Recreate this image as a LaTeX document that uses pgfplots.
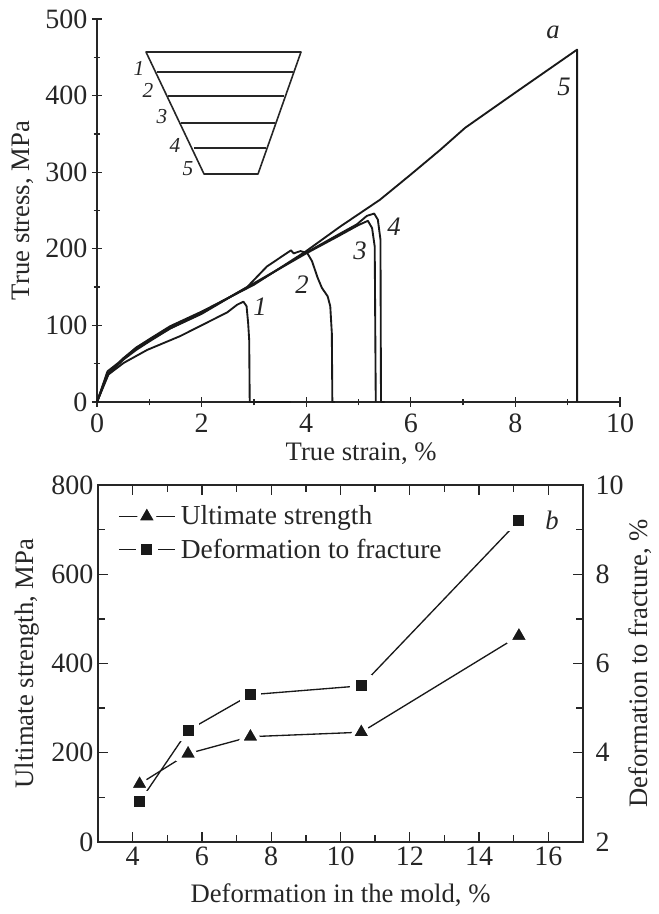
\documentclass[border=0pt]{standalone}
\usepackage{fontspec}
\setmainfont{Liberation Serif}
\usepackage{pgfplots}
\pgfplotsset{compat=1.18}
\pgfplotsset{
 common/.style={
  scale only axis,
  /pgf/number format/assume math mode=true,
  tick label style={font=\fontsize{21}{23}\selectfont, text=black!85},
  label style={font=\fontsize{20}{23}\selectfont, text=black!85},
  axis line style={line width=1.5pt, black!85},
  every tick/.style={line width=1pt, black!85},
  major tick length=7.5pt, minor tick length=5pt,
  tick align=inside,
  clip=false,
 },
 crv/.style={line width=1.4pt, black!90, line join=round, no markers},
 trimark/.style={mark=triangle*, mark size=9pt, mark options={solid, draw=white, fill=black!90, line width=3pt, line join=round}},
 sqmark/.style={mark=square*, mark size=6.1pt, mark options={solid, draw=white, fill=black!90, line width=4pt, line join=miter}},
}
\begin{document}
\begin{tikzpicture}[x=0.75pt,y=0.75pt]
\path (0,0) rectangle (659,914);
\begin{axis}[common, anchor=south west, at={(97*0.75pt,512*0.75pt)},
 width=392.25pt, height=287.25pt,
 xmin=0, xmax=10, ymin=0, ymax=500,
 axis x line=bottom, axis y line=left, axis line style={-},
 xtick={0,2,...,10}, minor xtick={1,3,5,7,9},
 ytick={0,100,...,500}, minor ytick={50,150,...,450},
 xticklabel style={yshift=-1.5pt},
 xlabel={True strain, \%}, ylabel={True stress, MPa},
 xlabel style={yshift=-1pt, xshift=2pt}, ylabel style={yshift=2pt},
]
\addplot[crv] coordinates {(0,0)(0.22,36)(0.51,51)(0.96,68)(1.59,86)(1.91,97)(2.49,117)(2.68,127)(2.80,131)(2.86,125)(2.89,103)(2.91,81)(2.92,0)(3.7,0)};
\addplot[crv] coordinates {(0,0)(0.2,37)(0.5,56)(0.75,69)(1,80)(1.4,96)(2,115)(2.87,150)(3.25,177)(3.71,198)(3.76,194)(3.89,197)(4.02,194.5)(4.11,184)(4.22,162)(4.30,149)(4.41,138)(4.46,125)(4.49,90)(4.5,0)(4.55,0)};
\addplot[crv] coordinates {(0,0)(0.2,35)(0.5,55)(0.75,68)(1,79)(1.4,96)(2,116)(3,155)(4,194)(4.6,216)(5,231)(5.18,236.5)(5.26,227)(5.31,203)(5.33,0)};
\addplot[crv] coordinates {(0,0)(0.2,36)(0.5,57)(0.75,71)(1,81)(1.4,98)(2,117)(3,154)(4,195)(4.6,218)(4.97,232)(5.16,243)(5.30,246)(5.37,238)(5.42,212)(5.43,0)(5.5,0)};
\addplot[crv] coordinates {(0,0)(0.2,40)(0.5,56)(0.75,71)(1,82)(1.4,99)(2,118)(3,153)(4,197)(4.65,229)(5.41,264)(6,297)(6.56,329)(7.04,358)(8,404)(9.18,460)(9.18,0)};
\end{axis}
\draw[line width=1.2pt, black!85, line join=round] (146,862)--(301,862)--(258,740)--(204,740)--cycle;
\foreach \yy/\a/\b in {842/157/293, 818/168/284, 791/181/275, 766/194/266}
  \draw[line width=1.1pt, black!85] (\a,\yy)--(\b,\yy);
\foreach \xx/\yy/\t in {139/846/1, 148/824/2, 162/797/3, 175/769/4, 188/745/5}
  \node[font=\fontsize{16}{18}\selectfont\itshape, text=black!85] at (\xx,\yy) {\t};
\foreach \xx/\yy/\t in {553/882/a, 564/827/5, 394/687/4, 360/663/3, 302/629/2, 260/607/1, 552/394/b}
  \node[font=\fontsize{20}{22}\selectfont\itshape, text=black!85] at (\xx,\yy) {\t};
\begin{axis}[common, anchor=south west, at={(98*0.75pt,72*0.75pt)},
 width=363.75pt, height=267.75pt,
 xmin=3, xmax=17, ymin=0, ymax=800,
 xtick pos=both, ytick pos=left,
 xtick={4,6,...,16}, minor xtick={3,5,...,17},
 ytick={0,200,...,800}, minor ytick={100,300,500,700},
 xlabel={Deformation in the mold, \%}, ylabel={Ultimate strength, MPa},
 xlabel style={yshift=-7pt}, ylabel style={yshift=2pt},
 legend style={at={(0.041,0.95)}, anchor=north west, draw=none, fill=none, font=\fontsize{20.6}{23}\selectfont, text=black!85, row sep=5pt, inner sep=0pt},
 legend cell align=left,
 legend image code/.code={\draw[mark repeat=2,mark phase=2,#1] plot coordinates {(0pt,0pt)(21pt,0pt)(42pt,0pt)};},
]
\addplot[line width=1pt, black!90, trimark] coordinates {(4.2,130)(5.6,198)(7.4,236)(10.6,246)(15.15,462)};
\addlegendentry{\hspace{2pt}Ultimate strength}
\addlegendimage{line width=1pt, black!90, sqmark}
\addlegendentry{\hspace{2pt}Deformation to fracture}
\end{axis}
\begin{axis}[common, anchor=south west, at={(98*0.75pt,72*0.75pt)},
 width=363.75pt, height=267.75pt,
 xmin=3, xmax=17, ymin=2, ymax=10,
 hide x axis, ytick pos=right, yticklabel pos=right,
 yticklabel style={xshift=6pt},
 ytick={2,4,...,10}, minor ytick={3,5,7,9},
 ylabel={Deformation to fracture, \%}, ylabel near ticks,
 ylabel style={font=\fontsize{20}{23}\selectfont, text=black!85, yshift=3pt},
]
\addplot[line width=1pt, black!90, sqmark] coordinates {(4.2,2.9)(5.6,4.5)(7.4,5.3)(10.6,5.5)(15.15,9.2)};
\end{axis}
\end{tikzpicture}
\end{document}
